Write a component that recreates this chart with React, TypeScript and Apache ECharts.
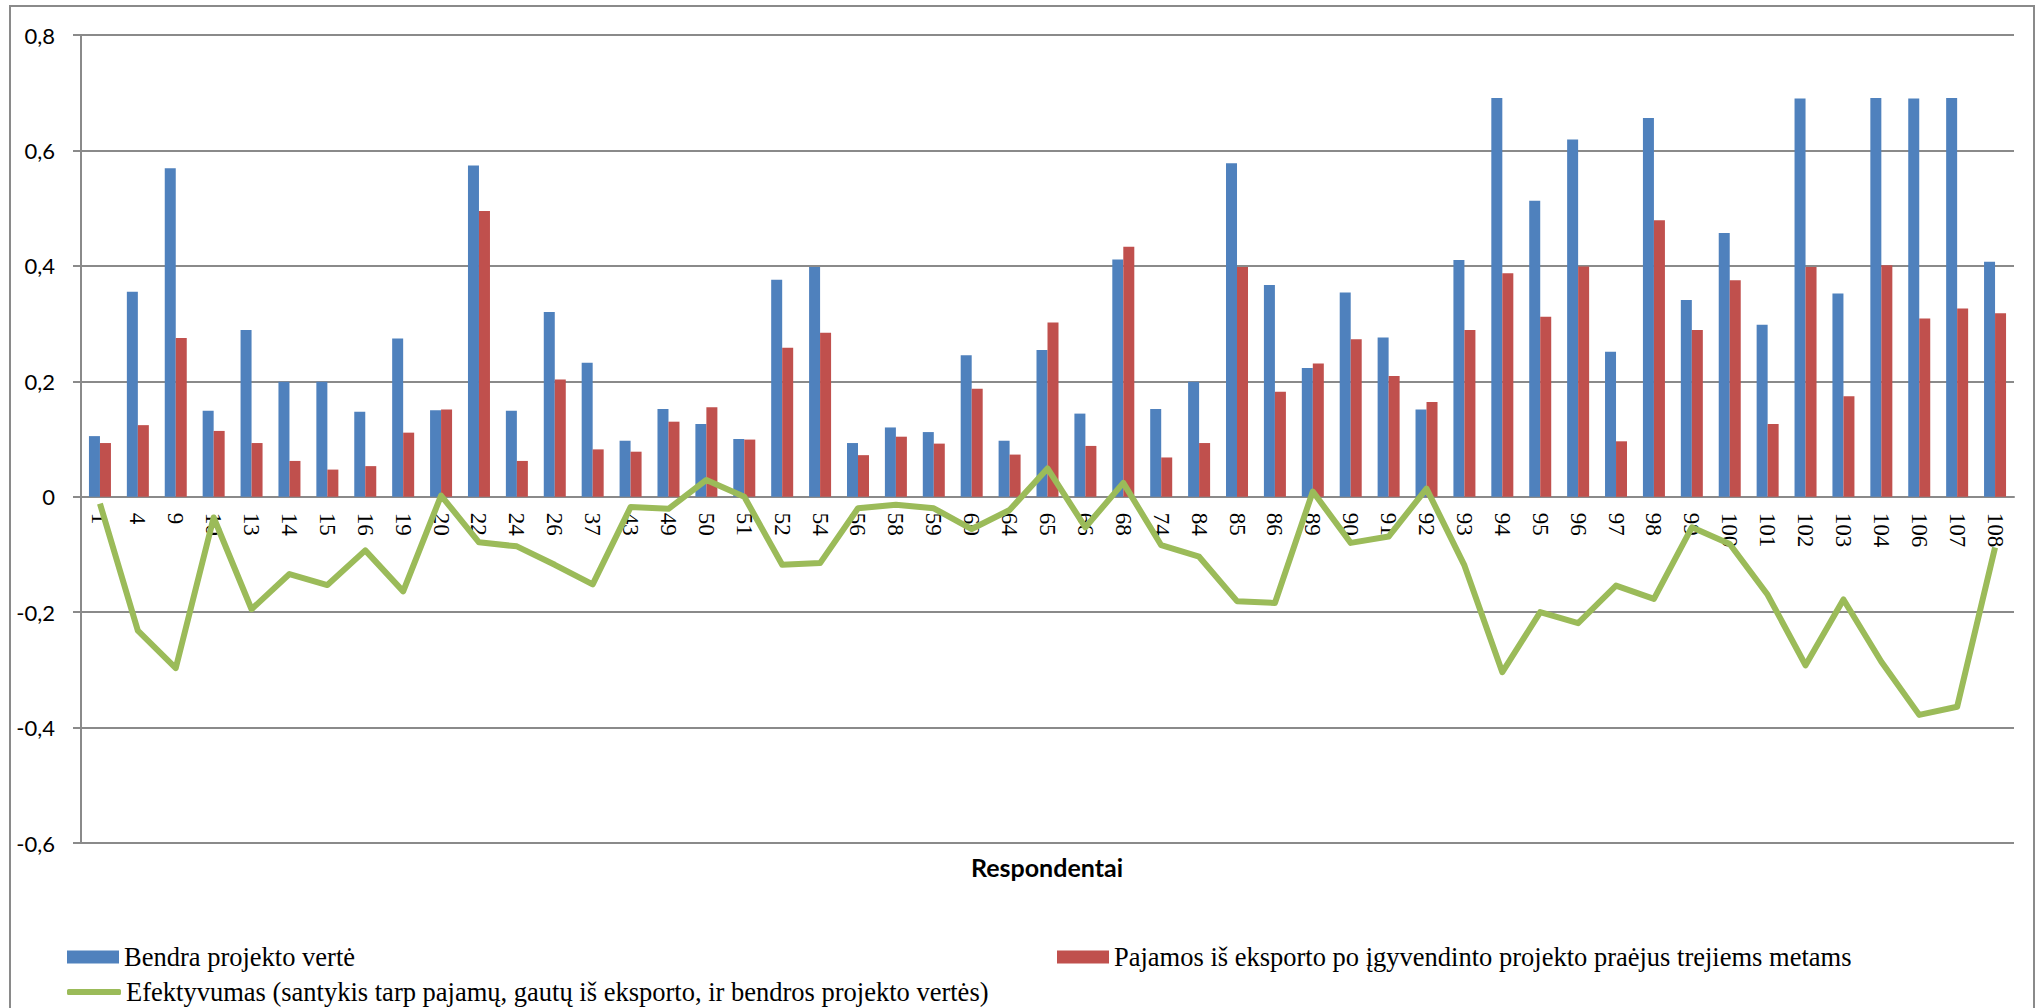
import React, { useEffect, useRef } from "react";
import * as echarts from "echarts";

// Respondent ids on the category axis
const respondentai = [
  "1", "4", "9", "10", "13", "14", "15", "16", "19", "20",
  "22", "24", "26", "37", "43", "49", "50", "51", "52", "54",
  "56", "58", "59", "60", "64", "65", "66", "68", "74", "84",
  "85", "86", "89", "90", "91", "92", "93", "94", "95", "96",
  "97", "98", "99", "100", "101", "102", "103", "104", "106", "107",
  "108",
];

// Total project value (normalised)
const bendraVerte = [
  0.105, 0.355, 0.569, 0.149, 0.289, 0.199, 0.199, 0.147, 0.274, 0.150,
  0.574, 0.149, 0.320, 0.232, 0.097, 0.152, 0.126, 0.100, 0.376, 0.398,
  0.093, 0.120, 0.112, 0.245, 0.097, 0.254, 0.144, 0.411, 0.152, 0.199,
  0.578, 0.367, 0.223, 0.354, 0.276, 0.151, 0.410, 0.691, 0.513, 0.619,
  0.251, 0.656, 0.341, 0.457, 0.298, 0.690, 0.352, 0.691, 0.690, 0.691,
  0.407,
];

// Export revenue three years after the project
const pajamos = [
  0.093, 0.124, 0.275, 0.114, 0.093, 0.062, 0.047, 0.053, 0.111, 0.151,
  0.495, 0.062, 0.203, 0.082, 0.078, 0.130, 0.155, 0.099, 0.258, 0.284,
  0.072, 0.104, 0.092, 0.187, 0.073, 0.302, 0.088, 0.433, 0.068, 0.093,
  0.398, 0.182, 0.231, 0.273, 0.209, 0.164, 0.289, 0.387, 0.312, 0.399,
  0.096, 0.479, 0.289, 0.375, 0.126, 0.398, 0.174, 0.401, 0.309, 0.326,
  0.318,
];

// Efficiency line
const efektyvumas = [
  -0.012, -0.232, -0.297, -0.036, -0.195, -0.134, -0.153, -0.093, -0.164, 0.002,
  -0.079, -0.086, -0.118, -0.152, -0.018, -0.021, 0.029, 0.0, -0.118, -0.115,
  -0.02, -0.014, -0.02, -0.056, -0.023, 0.049, -0.053, 0.024, -0.084, -0.104,
  -0.181, -0.184, 0.009, -0.08, -0.069, 0.014, -0.119, -0.304, -0.2, -0.219,
  -0.154, -0.177, -0.053, -0.082, -0.17, -0.292, -0.178, -0.286, -0.378, -0.364,
  -0.088,
];

const Y_MIN = -0.6;
const Y_MAX = 0.8;

const NAME_BLUE = "Bendra projekto vertė";
const NAME_RED = "Pajamos iš eksporto po įgyvendinto projekto praėjus trejiems metams";
const NAME_GREEN =
  "Efektyvumas (santykis tarp pajamų, gautų iš eksporto, ir bendros projekto vertės)";

const BLUE = "#4F81BD";
const RED = "#C0504D";
const GREEN = "#9BBB59";
const GRID_GRAY = "#8a8a8a";

const GRID_TOP = 35;
const GRID_BOTTOM = 165;
const CHART_H = 1008;

const legendText = {
  fontFamily: "'Liberation Serif', 'Times New Roman', serif",
  fontSize: 26.5,
  lineHeight: 29,
  color: "#000",
};

export default function App() {
  const ref = useRef<HTMLDivElement>(null);

  useEffect(() => {
    document.body.style.margin = "0";
    if (!ref.current) return;
    const chart = echarts.init(ref.current, undefined, { renderer: "svg" });

    // distance from the bottom of the plot up to the zero line
    const plotH = CHART_H - GRID_TOP - GRID_BOTTOM;
    const zeroOffset = (plotH * (0 - Y_MIN)) / (Y_MAX - Y_MIN);

    chart.setOption({
      animation: false,
      backgroundColor: "#fff",
      grid: { left: 81, right: 26, top: GRID_TOP, bottom: GRID_BOTTOM, containLabel: false },
      xAxis: {
        type: "category",
        data: respondentai,
        position: "bottom",
        offset: -zeroOffset,
        axisLine: { onZero: false, lineStyle: { color: GRID_GRAY, width: 2 } },
        axisTick: { show: false },
        axisLabel: {
          rotate: -90,
          margin: 16,
          interval: 0,
          fontFamily: "'Liberation Serif', 'Times New Roman', serif",
          fontSize: 23,
          color: "#000",
        },
      },
      yAxis: {
        type: "value",
        min: Y_MIN,
        max: Y_MAX,
        interval: 0.2,
        axisLine: { show: true, lineStyle: { color: GRID_GRAY, width: 2 } },
        axisTick: { show: true, length: 8, lineStyle: { color: GRID_GRAY, width: 2 } },
        splitLine: { show: true, lineStyle: { color: GRID_GRAY, width: 2 } },
        axisLabel: {
          margin: 26,
          fontFamily: "Lato, 'Noto Sans', sans-serif",
          fontSize: 22,
          color: "#000",
          formatter: (v: number) => {
            const r = Math.round(v * 10) / 10;
            if (r === 0) return "0";
            return r.toFixed(1).replace(".", ",");
          },
        },
      },
      legend: [
        {
          data: [NAME_BLUE],
          left: 67,
          top: 942.5,
          padding: 0,
          icon: "rect",
          itemWidth: 52,
          itemHeight: 13,
          textStyle: legendText,
        },
        {
          data: [NAME_RED],
          left: 1057,
          top: 942.5,
          padding: 0,
          icon: "rect",
          itemWidth: 52,
          itemHeight: 13,
          textStyle: legendText,
        },
        {
          data: [NAME_GREEN],
          left: 67,
          top: 977.5,
          padding: 0,
          icon: "roundRect",
          itemWidth: 54,
          itemHeight: 6,
          textStyle: legendText,
        },
      ],
      graphic: [
        {
          type: "rect",
          silent: true,
          shape: { x: 10, y: 6, width: 2024, height: 1020 },
          style: { fill: "none", stroke: GRID_GRAY, lineWidth: 2 },
          z: -10,
        },
        {
          type: "text",
          x: 1047,
          y: 867,
          style: {
            text: "Respondentai",
            fontFamily: "Lato, 'Noto Sans', sans-serif",
            fontWeight: "bold",
            fontSize: 25,
            fill: "#000",
            textAlign: "center",
            textVerticalAlign: "middle",
          },
        },
      ],
      series: [
        {
          name: NAME_BLUE,
          type: "bar",
          data: bendraVerte,
          barWidth: 11,
          barGap: "0%",
          itemStyle: { color: BLUE },
        },
        {
          name: NAME_RED,
          type: "bar",
          data: pajamos,
          barWidth: 11,
          barGap: "0%",
          itemStyle: { color: RED },
        },
        {
          name: NAME_GREEN,
          type: "line",
          data: efektyvumas,
          showSymbol: false,
          symbol: "none",
          z: 5,
          lineStyle: { color: GREEN, width: 6, join: "round" },
          itemStyle: { color: GREEN },
        },
      ],
    });

    return () => chart.dispose();
  }, []);

  return <div ref={ref} style={{ width: 2040, height: CHART_H }} />;
}
